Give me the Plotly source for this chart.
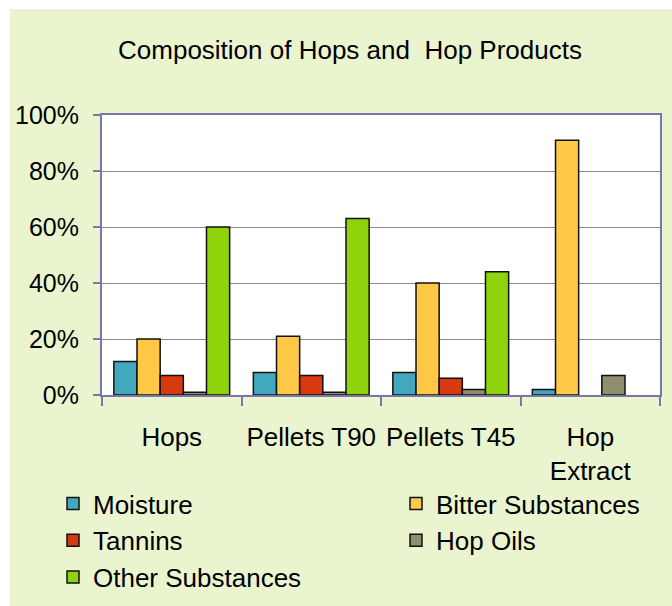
import plotly.graph_objects as go

categories = ["Hops", "Pellets T90", "Pellets T45", "Hop<br>Extract"]
moisture = [12, 8, 8, 2]
bitter = [20, 21, 40, 91]
tannins = [7, 7, 6, None]
hop_oils = [1, 1, 2, 7]
other = [60, 63, 44, None]

series_names = ["Moisture", "Bitter Substances", "Tannins", "Hop Oils", "Other Substances"]
series_values = [moisture, bitter, tannins, hop_oils, other]
series_colors = ["#41A8BF", "#FFC846", "#D83A10", "#8F8F70", "#8ED30C"]
series_legend = ["legend", "legend2", "legend", "legend2", "legend"]

y_ticks = [0, 20, 40, 60, 80, 100]
y_ticklabels = ["0%", "20%", "40%", "60%", "80%", "100%"]

FONT = "Liberation Sans, Arial, sans-serif"
W, H = 672, 606
L, R, T, B = 102, 12, 115, 211
pw = W - L - R
ph = H - T - B

def px(x):
    return (x - L) / pw

def py(y):
    return (H - B - y) / ph

fig = go.Figure()
for name, vals, col, lg in zip(series_names, series_values, series_colors, series_legend):
    fig.add_trace(go.Bar(
        x=categories, y=vals, name=name, legend=lg,
        marker=dict(color=col, line=dict(color="#111111", width=1.5)),
    ))

leg_common = dict(orientation="v", xref="container", yref="container", xanchor="left",
                  yanchor="top", font=dict(size=26, family=FONT, color="black"),
                  bgcolor="rgba(0,0,0,0)", traceorder="normal", itemclick=False,
                  itemdoubleclick=False, tracegroupgap=0)

fig.update_layout(
    width=W, height=H,
    margin=dict(l=L, r=R, t=T, b=B, pad=0, autoexpand=False),
    paper_bgcolor="#EAF5D0",
    plot_bgcolor="white",
    barmode="group", bargap=0.17, bargroupgap=0,
    font=dict(family=FONT, size=24, color="black"),
    title=dict(text="Composition of Hops and  Hop Products", x=350 / W, xanchor="center",
               xref="container", y=1 - 50 / H, yanchor="middle", yref="container",
               font=dict(size=26, family=FONT, color="black")),
    showlegend=True,
    legend=dict(x=53 / W, y=1 - 480 / H, **leg_common),
    legend2=dict(x=396 / W, y=1 - 480 / H, **leg_common),
    shapes=[
        dict(type="rect", xref="paper", yref="paper", x0=px(-5), x1=px(10), y0=py(H + 5), y1=py(-5),
             fillcolor="white", line=dict(width=0), layer="below"),
        dict(type="rect", xref="paper", yref="paper", x0=px(-5), x1=px(W + 5), y0=py(9), y1=py(-5),
             fillcolor="white", line=dict(width=0), layer="below"),
    ],
)

fig.update_xaxes(
    tickson="boundaries", ticks="outside", ticklen=9, tickcolor="#7878A8", tickwidth=1.5,
    showline=True, linecolor="#7878A8", linewidth=2, mirror=True,
    showgrid=False, tickfont=dict(size=26, family=FONT), ticklabelstandoff=18,
)
fig.update_yaxes(
    range=[0, 100], tickvals=y_ticks, ticktext=y_ticklabels,
    ticks="outside", ticklen=7, tickcolor="#7878A8", tickwidth=1.5,
    showline=True, linecolor="#7878A8", linewidth=2, mirror=True,
    showgrid=True, gridcolor="#8A8A8A", gridwidth=1, zeroline=False,
    tickfont=dict(size=25, family=FONT), ticklabelstandoff=9,
)

fig.write_html("out.html", config={"displayModeBar": False},
               post_script="document.body.style.margin='0';document.body.style.overflow='hidden';")
